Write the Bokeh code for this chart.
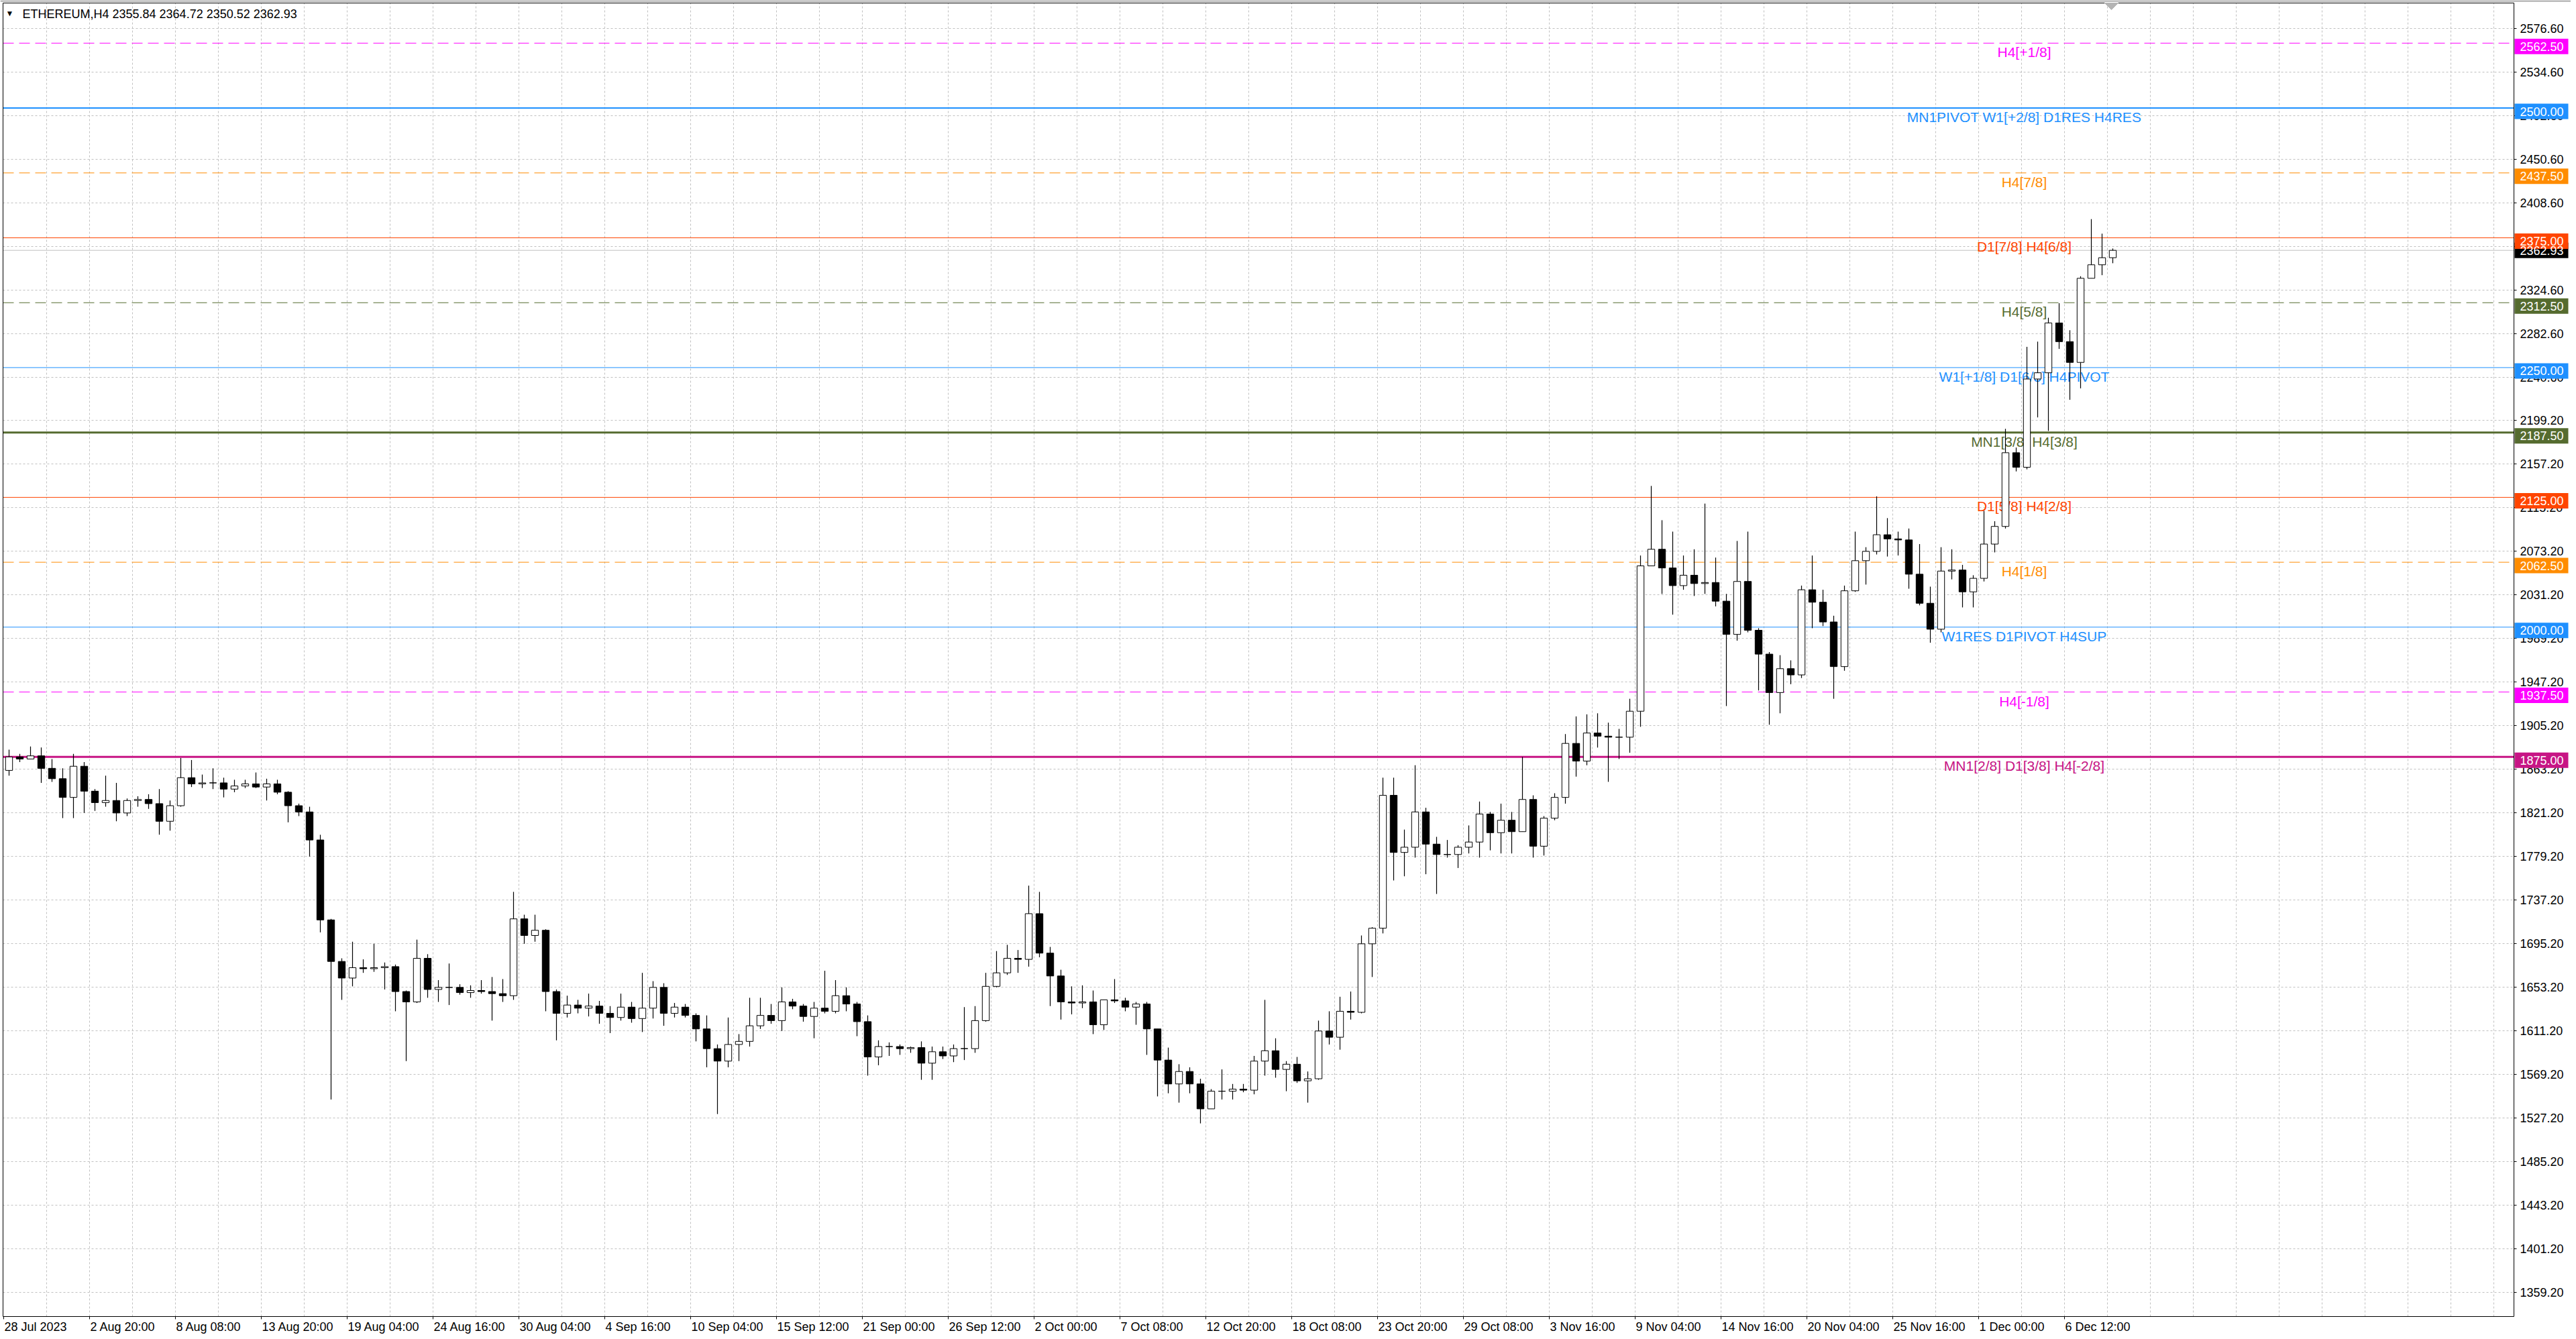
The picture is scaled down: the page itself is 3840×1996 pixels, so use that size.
from bokeh.plotting import figure
from bokeh.models import Range1d, ColumnDataSource
from bokeh.core.properties import value
from bokeh.embed import file_html
from bokeh.resources import INLINE

FONT = "Liberation Sans"

symbol = "ETHEREUM,H4"

# one candle here = 4 H4 bars
bars_per_candle = 4
first_open = 1862

closes = [
    1875, 1873, 1876, 1864, 1854, 1836, 1866, 1842, 1831, 1833,
    1821, 1833, 1834, 1830, 1813, 1828, 1855, 1849, 1850, 1850,
    1844, 1847, 1849, 1846, 1849, 1841, 1828, 1822, 1795, 1718,
    1678, 1662, 1672, 1671, 1672, 1673, 1649, 1639, 1681, 1651,
    1653, 1653, 1648, 1650, 1649, 1647, 1645, 1719, 1703, 1708,
    1649, 1628, 1636, 1633, 1635, 1628, 1624, 1634, 1623, 1633,
    1653, 1628, 1634, 1626, 1613, 1594, 1582, 1598, 1601, 1616,
    1626, 1621, 1639, 1635, 1625, 1633, 1630, 1645, 1637, 1620,
    1586, 1596, 1596, 1594, 1595, 1580, 1591, 1587, 1594, 1594,
    1621, 1654, 1667, 1681, 1680, 1724, 1686, 1664, 1639, 1638,
    1639, 1617, 1641, 1640, 1634, 1637, 1613, 1583, 1560, 1572,
    1560, 1536, 1553, 1553, 1555, 1554, 1582, 1592, 1574, 1579,
    1563, 1565, 1611, 1605, 1630, 1629, 1695, 1710, 1838, 1783,
    1788, 1822, 1791, 1781, 1781, 1788, 1793, 1820, 1802, 1814,
    1803, 1834, 1789, 1816, 1836, 1888, 1871, 1898, 1895, 1894,
    1894, 1919, 2059, 2075, 2057, 2040, 2050, 2042, 2043, 2025,
    1993, 2044, 1997, 1974, 1937, 1960, 1954, 2036, 2024, 2005,
    1962, 2035, 2064, 2073, 2089, 2085, 2084, 2051, 2023, 1998,
    2054, 2055, 2034, 2047, 2080, 2097, 2168, 2154, 2239, 2245,
    2293, 2275, 2255, 2336, 2349, 2355.84, 2362.93,
]

highs = [
    1882, 1878, 1885, 1884, 1873, 1864, 1878, 1870, 1844, 1857,
    1850, 1835, 1837, 1839, 1844, 1833, 1874, 1872, 1858, 1864,
    1855, 1853, 1853, 1860, 1854, 1853, 1842, 1830, 1827, 1800,
    1719, 1681, 1697, 1680, 1695, 1677, 1675, 1650, 1699, 1685,
    1660, 1676, 1656, 1655, 1660, 1663, 1661, 1745, 1723, 1723,
    1709, 1651, 1645, 1641, 1647, 1640, 1635, 1647, 1639, 1667,
    1659, 1657, 1638, 1637, 1628, 1626, 1598, 1624, 1608, 1643,
    1643, 1637, 1653, 1642, 1637, 1639, 1669, 1660, 1653, 1639,
    1626, 1602, 1600, 1598, 1596, 1601, 1596, 1596, 1598, 1634,
    1635, 1667, 1688, 1694, 1689, 1751, 1745, 1692, 1670, 1654,
    1655, 1650, 1641, 1661, 1643, 1639, 1639, 1613, 1595, 1579,
    1576, 1565, 1555, 1574, 1560, 1560, 1587, 1641, 1604, 1582,
    1586, 1572, 1621, 1630, 1644, 1649, 1703, 1711, 1855, 1855,
    1805, 1867, 1826, 1798, 1795, 1790, 1809, 1832, 1822, 1830,
    1822, 1875, 1838, 1818, 1840, 1897, 1914, 1916, 1917, 1908,
    1902, 1931, 2069, 2136, 2103, 2092, 2069, 2075, 2119, 2067,
    2032, 2083, 2092, 1999, 1976, 1973, 1968, 2040, 2069, 2036,
    2011, 2040, 2092, 2077, 2126, 2105, 2092, 2095, 2080, 2039,
    2077, 2075, 2060, 2050, 2112, 2102, 2191, 2173, 2270, 2275,
    2298, 2312, 2286, 2338, 2393, 2379, 2364.72,
]

lows = [
    1857, 1870, 1873, 1850, 1851, 1816, 1816, 1821, 1823, 1827,
    1813, 1818, 1827, 1825, 1800, 1804, 1827, 1846, 1845, 1844,
    1836, 1841, 1845, 1845, 1833, 1839, 1812, 1818, 1779, 1706,
    1545, 1641, 1654, 1667, 1668, 1651, 1630, 1582, 1638, 1643,
    1639, 1636, 1646, 1643, 1647, 1621, 1639, 1641, 1695, 1697,
    1630, 1602, 1624, 1628, 1625, 1618, 1609, 1621, 1619, 1610,
    1623, 1616, 1624, 1624, 1601, 1576, 1531, 1576, 1582, 1596,
    1613, 1618, 1611, 1632, 1620, 1604, 1628, 1628, 1630, 1606,
    1568, 1578, 1587, 1588, 1590, 1564, 1564, 1584, 1581, 1583,
    1590, 1620, 1653, 1665, 1667, 1673, 1682, 1635, 1622, 1627,
    1633, 1608, 1612, 1638, 1630, 1617, 1588, 1548, 1551, 1542,
    1551, 1522, 1536, 1545, 1545, 1552, 1550, 1568, 1566, 1553,
    1561, 1542, 1564, 1598, 1593, 1622, 1628, 1663, 1705, 1756,
    1760, 1778, 1762, 1743, 1778, 1768, 1782, 1778, 1785, 1782,
    1782, 1803, 1778, 1780, 1814, 1830, 1856, 1867, 1884, 1851,
    1873, 1879, 1904, 2059, 2032, 2012, 2036, 2030, 2032, 2020,
    1924, 1987, 1995, 1939, 1906, 1917, 1945, 1951, 1999, 2001,
    1931, 1958, 2034, 2041, 2070, 2068, 2069, 2037, 2021, 1985,
    1995, 2046, 2019, 2019, 2044, 2072, 2095, 2150, 2152, 2202,
    2189, 2268, 2219, 2230, 2336, 2339, 2350.52,
]

x_tick_bars = [0, 32, 64, 96, 128, 160, 192, 224, 256, 288, 320, 352, 384,
               416, 448, 480, 512, 544, 576, 608, 640, 672, 704, 736, 768]
x_tick_labels = [
    "28 Jul 2023", "2 Aug 20:00", "8 Aug 08:00", "13 Aug 20:00", "19 Aug 04:00",
    "24 Aug 16:00", "30 Aug 04:00", "4 Sep 16:00", "10 Sep 04:00", "15 Sep 12:00",
    "21 Sep 00:00", "26 Sep 12:00", "2 Oct 00:00", "7 Oct 08:00", "12 Oct 20:00",
    "18 Oct 08:00", "23 Oct 20:00", "29 Oct 08:00", "3 Nov 16:00", "9 Nov 04:00",
    "14 Nov 16:00", "20 Nov 04:00", "25 Nov 16:00", "1 Dec 00:00", "6 Dec 12:00",
]
x_grid_step = 16

y_tick_labels = [
    "2576.60", "2534.60", "2492.60", "2450.60", "2408.60", "2366.60", "2324.60",
    "2282.60", "2240.60", "2199.20", "2157.20", "2115.20", "2073.20", "2031.20",
    "1989.20", "1947.20", "1905.20", "1863.20", "1821.20", "1779.20", "1737.20",
    "1695.20", "1653.20", "1611.20", "1569.20", "1527.20", "1485.20", "1443.20",
    "1401.20", "1359.20",
]

# Murrey math levels
levels = [2562.5, 2500.0, 2437.5, 2375.0, 2312.5, 2250.0,
          2187.5, 2125.0, 2062.5, 2000.0, 1937.5, 1875.0]
level_names = [
    "H4[+1/8]", "MN1PIVOT W1[+2/8] D1RES H4RES", "H4[7/8]", "D1[7/8] H4[6/8]",
    "H4[5/8]", "W1[+1/8] D1[6/8] H4PIVOT", "MN1[3/8] H4[3/8]", "D1[5/8] H4[2/8]",
    "H4[1/8]", "W1RES D1PIVOT H4SUP", "H4[-1/8]", "MN1[2/8] D1[3/8] H4[-2/8]",
]
level_colors = ["#FF00FF", "#1E90FF", "#FF8C00", "#FF4500", "#556B2F", "#1E90FF",
                "#556B2F", "#FF4500", "#FF8C00", "#1E90FF", "#FF00FF", "#C71585"]
level_dashed = [True, False, True, False, True, False,
                False, False, True, False, True, False]
level_widths = [1, 2, 1, 1, 1, 1, 3, 1, 1, 1, 1, 3]
level_label_bar = 753

# ---- canvas geometry (pixels) -> data ranges
W, H = 3832, 1990
PX_BAR = 4.0            # px per H4 bar
PX_PRICE = 1.5476       # px per price unit
BAR0_PX = 5             # left edge of bar 0
REF_PRICE, REF_PX = 2576.6, 42

x0 = -BAR0_PX / PX_BAR
y_top = REF_PRICE + REF_PX / PX_PRICE


def xpx(px):
    return x0 + px / PX_BAR


def ypx(py):
    return y_top - py / PX_PRICE


chart_left, chart_right = xpx(4), xpx(3747)
chart_top, chart_bottom = ypx(4), ypx(1962)

p = figure(
    width=W, height=H,
    x_range=Range1d(x0, xpx(W)), y_range=Range1d(ypx(H), y_top),
    x_axis_location=None, y_axis_location=None,
    output_backend="svg", toolbar_location=None,
    min_border=0,
)
p.outline_line_color = None
p.background_fill_color = "white"
p.border_fill_color = "white"
p.xgrid.visible = False
p.ygrid.visible = False

grid = dict(line_color="#C0C0C0", line_dash="3 3", line_width=1)

# window edge above the chart
p.quad(left=[x0], right=[xpx(W)], top=[y_top], bottom=[ypx(2)],
       fill_color="#A0A0A0", line_color=None)

# grid
gx = list(range(x_grid_step, int(chart_right), x_grid_step))
p.segment(x0=gx, y0=[chart_bottom] * len(gx), x1=gx, y1=[chart_top] * len(gx), **grid)
y_ticks = [float(t) for t in y_tick_labels]
p.segment(x0=[chart_left] * len(y_ticks), y0=y_ticks,
          x1=[chart_right] * len(y_ticks), y1=y_ticks, **grid)

# level lines
for lv, col, dashed, w in zip(levels, level_colors, level_dashed, level_widths):
    p.segment(x0=[chart_left], y0=[lv], x1=[chart_right], y1=[lv], line_color=col,
              line_width=w, line_dash="16 8" if dashed else "solid")
p.segment(x0=[chart_left], y0=[closes[-1]], x1=[chart_right], y1=[closes[-1]],
          line_color="#C0C0C0", line_width=1)

p.text(x=[level_label_bar] * len(levels), y=levels, text=level_names,
       text_color=level_colors, text_font=value(FONT), text_font_size="21px",
       text_align="center", text_baseline="top", y_offset=2)

# candles
opens = [first_open] + closes[:-1]
xs = [i * bars_per_candle + bars_per_candle / 2 for i in range(len(closes))]
tops = [max(o, c) for o, c in zip(opens, closes)]
bottoms = [min(o, c) for o, c in zip(opens, closes)]
fills = ["white" if c >= o else "black" for o, c in zip(opens, closes)]
source = ColumnDataSource(data=dict(x=xs, high=highs, low=lows,
                                    top=tops, bottom=bottoms, fill=fills))
p.segment(x0="x", y0="low", x1="x", y1="high", source=source,
          line_color="black", line_width=1.2)
p.vbar(x="x", width=2.6, top="top", bottom="bottom", source=source,
       fill_color="fill", line_color="black", line_width=1)

# chart frame and shift marker
p.quad(left=[chart_left], right=[chart_right], top=[chart_top], bottom=[chart_bottom],
       fill_color=None, line_color="black", line_width=1)
p.patch(x=[xpx(3137), xpx(3157), xpx(3147)], y=[ypx(4), ypx(4), ypx(14)],
        fill_color="#B4B4B4", line_color="#B4B4B4")

# price axis (right)
p.segment(x0=[chart_right] * len(y_ticks), y0=y_ticks,
          x1=[chart_right + 4 / PX_BAR] * len(y_ticks), y1=y_ticks, line_color="black")
p.text(x=[chart_right] * len(y_ticks), y=y_ticks, text=y_tick_labels, x_offset=9,
       text_font=value(FONT), text_font_size="18px", text_color="black",
       text_align="left", text_baseline="middle")

# time axis (bottom)
tick_len = 4 / PX_PRICE
p.segment(x0=x_tick_bars, y0=[chart_bottom] * len(x_tick_bars), x1=x_tick_bars,
          y1=[chart_bottom - tick_len] * len(x_tick_bars), line_color="black")
p.text(x=x_tick_bars, y=[chart_bottom] * len(x_tick_bars), text=x_tick_labels,
       x_offset=1, y_offset=5, text_font=value(FONT), text_font_size="18px",
       text_color="black", text_align="left", text_baseline="top")

# value boxes on the price axis (level boxes sit a few px under their line)
box_l, box_r = xpx(3748), xpx(3828)
half_h = 11.5 / PX_PRICE
box_vals = [closes[-1]] + levels
box_cols = ["black"] + level_colors
box_shift = [0.0] + [5 / PX_PRICE] * len(levels)
box_mid = [v - s for v, s in zip(box_vals, box_shift)]
p.quad(left=[box_l] * len(box_vals), right=[box_r] * len(box_vals),
       top=[m + half_h for m in box_mid], bottom=[m - half_h for m in box_mid],
       fill_color=box_cols, line_color=None)
p.text(x=[chart_right] * len(box_vals), y=box_mid,
       text=[f"{v:.2f}" for v in box_vals], x_offset=9,
       text_font=value(FONT), text_font_size="18px", text_color="white",
       text_align="left", text_baseline="middle")

# header
header = f"{symbol}  {opens[-1]:.2f} {highs[-1]:.2f} {lows[-1]:.2f} {closes[-1]:.2f}"
p.text(x=[xpx(14)], y=[ypx(19)], text=["\u25bc"], text_font=value(FONT),
       text_font_size="12px", text_color="black",
       text_align="center", text_baseline="middle")
p.text(x=[xpx(33)], y=[ypx(20)], text=[header], text_font=value(FONT),
       text_font_size="18px", text_color="black",
       text_align="left", text_baseline="middle")

open("out.html", "w").write(file_html(p, INLINE))
